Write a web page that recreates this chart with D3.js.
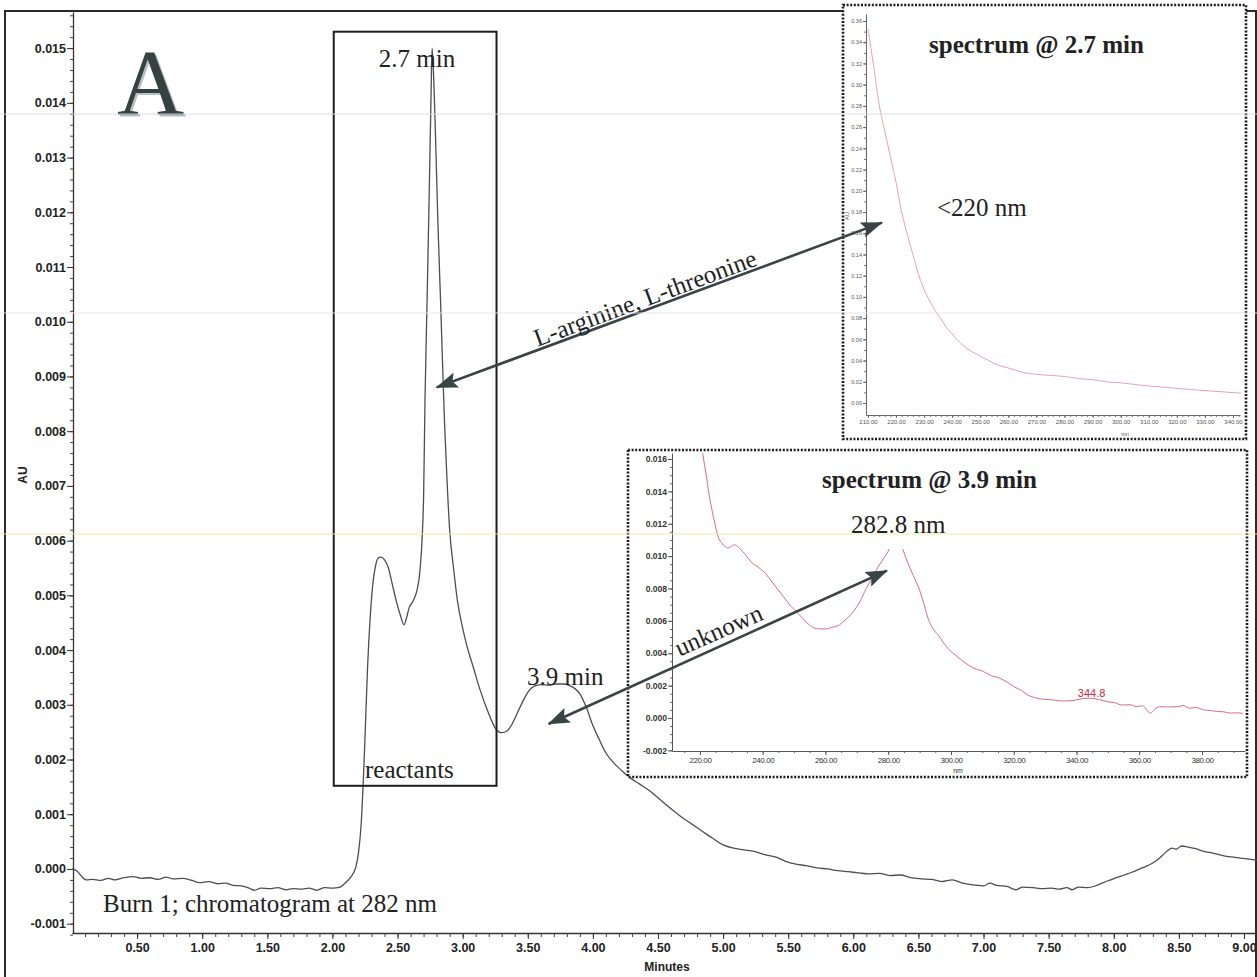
<!DOCTYPE html>
<html>
<head>
<meta charset="utf-8">
<script src="https://cdn.jsdelivr.net/npm/d3@7"></script>
<style>
  body { margin: 0; background: #fff; }
  svg { display: block; }
</style>
</head>
<body>
<script>
// ---- Chromatogram, Burn 1, detection at 282 nm ----
const retentionMin = [
  0.00, 0.04, 0.08, 0.11, 0.16, 0.22, 0.28, 0.33, 0.40, 0.47, 0.53, 0.60, 0.66, 0.72, 0.78, 0.85,
  0.92, 0.98, 1.05, 1.12, 1.18, 1.24, 1.30, 1.36, 1.40, 1.45, 1.52, 1.58, 1.64, 1.70, 1.76, 1.82,
  1.88, 1.94, 2.00, 2.06, 2.10, 2.14, 2.18, 2.20, 2.22, 2.235, 2.25, 2.27, 2.29, 2.31, 2.33, 2.35,
  2.37, 2.40, 2.43, 2.46, 2.49, 2.52, 2.55, 2.57, 2.59, 2.62, 2.65, 2.67, 2.69, 2.70, 2.711, 2.727,
  2.742, 2.757, 2.765, 2.775, 2.795, 2.81, 2.83, 2.86, 2.88, 2.90, 2.93, 2.96, 3.00, 3.03, 3.08, 3.13,
  3.19, 3.26, 3.30, 3.34, 3.38, 3.42, 3.47, 3.51, 3.55, 3.60, 3.66, 3.72, 3.78, 3.82, 3.86, 3.90,
  3.95, 4.00, 4.05, 4.10, 4.16, 4.22, 4.29, 4.36, 4.44, 4.52, 4.60, 4.68, 4.76, 4.84, 4.92, 5.00,
  5.08, 5.16, 5.24, 5.32, 5.40, 5.48, 5.56, 5.64, 5.72, 5.80, 5.88, 5.96, 6.04, 6.12, 6.20, 6.28,
  6.36, 6.44, 6.52, 6.60, 6.68, 6.76, 6.84, 6.92, 7.00, 7.05, 7.10, 7.18, 7.25, 7.30, 7.38, 7.45,
  7.52, 7.58, 7.64, 7.68, 7.73, 7.80, 7.88, 7.95, 8.02, 8.08, 8.14, 8.20, 8.26, 8.32, 8.37, 8.41,
  8.45, 8.48, 8.52, 8.57, 8.63, 8.69, 8.76, 8.83, 8.90, 8.97, 9.04, 9.10
];
const absorbanceAU = [
  0.00000, -0.00004, -0.00015, -0.00020, -0.00019, -0.00021, -0.00017, -0.00020, -0.00016, -0.00014, -0.00017, -0.00016, -0.00019, -0.00015, -0.00018, -0.00017,
  -0.00021, -0.00025, -0.00023, -0.00027, -0.00026, -0.00030, -0.00031, -0.00035, -0.00039, -0.00035, -0.00036, -0.00034, -0.00038, -0.00036, -0.00037, -0.00035,
  -0.00039, -0.00034, -0.00035, -0.00033, -0.00025, -0.00015, 0.00004, 0.00030, 0.00080, 0.00150, 0.00240, 0.00370, 0.00460, 0.00520, 0.00553, 0.00568,
  0.00570, 0.00565, 0.00550, 0.00520, 0.00490, 0.00465, 0.00446, 0.00460, 0.00478, 0.00490, 0.00510, 0.00540, 0.00610, 0.00680, 0.00860, 0.01040,
  0.01220, 0.01410, 0.01500, 0.01460, 0.01310, 0.01180, 0.01040, 0.00820, 0.00710, 0.00620, 0.00550, 0.00490, 0.00440, 0.00410, 0.00370, 0.00330,
  0.00290, 0.00254, 0.00249, 0.00252, 0.00265, 0.00285, 0.00310, 0.00326, 0.00334, 0.00337, 0.00336, 0.00338, 0.00338, 0.00335, 0.00330, 0.00320,
  0.00295, 0.00262, 0.00236, 0.00212, 0.00194, 0.00180, 0.00166, 0.00155, 0.00142, 0.00126, 0.00110, 0.00095, 0.00082, 0.00069, 0.00056, 0.00044,
  0.00038, 0.00035, 0.00032, 0.00026, 0.00022, 0.00014, 0.00009, 0.00006, 0.00002, 0.00000, -0.00003, -0.00005, -0.00007, -0.00009, -0.00008, -0.00012,
  -0.00011, -0.00016, -0.00018, -0.00019, -0.00023, -0.00020, -0.00026, -0.00029, -0.00031, -0.00026, -0.00030, -0.00032, -0.00038, -0.00033, -0.00034, -0.00036,
  -0.00035, -0.00037, -0.00034, -0.00038, -0.00033, -0.00034, -0.00029, -0.00022, -0.00016, -0.00011, -0.00006, 0.00000, 0.00006, 0.00014, 0.00024, 0.00033,
  0.00038, 0.00036, 0.00042, 0.00040, 0.00037, 0.00032, 0.00029, 0.00025, 0.00022, 0.00020, 0.00018, 0.00016
];

// ---- UV spectrum of the 2.7 min peak ----
const spec27Nm = [210, 212, 214, 216, 218, 220, 222, 224, 226, 228, 230, 232, 234, 236, 238, 240, 242, 244, 246, 248,
  250, 253, 256, 260, 265, 270, 275, 280, 285, 290, 295, 300, 305, 310, 315, 320, 325, 330, 335, 340, 343];
const spec27AU = [0.352, 0.318, 0.281, 0.256, 0.232, 0.208, 0.180, 0.159, 0.140, 0.121, 0.107, 0.096, 0.087, 0.079, 0.071, 0.065, 0.059, 0.054, 0.050, 0.047,
  0.044, 0.040, 0.036, 0.033, 0.029, 0.027, 0.026, 0.025, 0.023, 0.022, 0.020, 0.019, 0.0175, 0.016, 0.015, 0.0138, 0.0127, 0.0117, 0.0108, 0.0098, 0.0093];

// ---- UV spectrum of the 3.9 min peak ----
const spec39Nm = [220, 221, 222, 223, 224, 225, 226, 227, 228, 229, 230, 231, 232, 233, 234.5, 236, 238.7, 241, 243, 245,
  247, 249, 251.6, 254, 256, 258, 260, 262, 264, 266, 268.6, 271, 273, 275, 277, 279, 280, 281.5, 282.8, 284,
  284.7, 286, 288, 290, 291, 292.8, 294, 296, 299, 302, 304.6, 307, 310, 313, 315, 318, 320.4, 322.5, 324.6, 326,
  327.8, 330, 333, 336, 339.6, 342, 344.8, 347, 350, 352, 354.6, 357, 359, 361, 363.5, 365, 366.5, 369, 372.6, 374,
  376, 378, 380.5, 383, 385, 387, 389, 391, 393];
const spec39AU = [0.0175, 0.0162, 0.0150, 0.0137, 0.0127, 0.0118, 0.0111, 0.0108, 0.0106, 0.0105, 0.0106, 0.0107, 0.0106, 0.0104, 0.0101, 0.0097, 0.0093, 0.0089, 0.0084, 0.0079,
  0.0074, 0.0069, 0.0064, 0.0059, 0.0056, 0.0055, 0.0055, 0.0056, 0.0057, 0.0060, 0.0065, 0.0072, 0.0080, 0.0087, 0.0094, 0.0100, 0.0103, 0.0110, 0.0113, 0.0108,
  0.0104, 0.0097, 0.0088, 0.0079, 0.0073, 0.0061, 0.0056, 0.0051, 0.0043, 0.0038, 0.0034, 0.0031, 0.0029, 0.0026, 0.0025, 0.0022, 0.0019, 0.0017, 0.0014, 0.0013,
  0.0012, 0.00115, 0.0011, 0.00105, 0.0011, 0.0012, 0.00122, 0.00115, 0.0010, 0.00095, 0.0008, 0.00082, 0.0007, 0.00075, 0.0003, 0.00055, 0.0007, 0.00068, 0.0007, 0.00078,
  0.0006, 0.00065, 0.0005, 0.00045, 0.0004, 0.00038, 0.0003, 0.00032, 0.00028];

// ---- Axis ticks ----
const mainXTicks = d3.range(0.5, 9.01, 0.5);
const mainXMinor = d3.range(0.1, 9.1, 0.1);
const mainYTicks = d3.range(-0.001, 0.01501, 0.001);
const mainYMinor = d3.range(-0.0012, 0.01561, 0.0002);
const spec27XTicks = d3.range(210, 341, 10);
const spec27YTicks = d3.range(0, 0.3601, 0.02);
const spec39XTicks = d3.range(220, 381, 20);
const spec39YTicks = d3.range(-0.002, 0.01601, 0.002);

// ---- Annotation values ----
const reactantWindowMin = [2.01, 3.26];
const reactantWindowAU = [0.00152, 0.0153];
const peakLabel = "344.8";

const W = 1257, H = 977;
const svg = d3.select("body").append("svg").attr("width", W).attr("height", H)
  .style("font-family", "'Liberation Sans', Arial, sans-serif");

const serif = "'Liberation Serif', 'Times New Roman', serif";
const ink = "#222";

// outer page frame
svg.append("rect").attr("x", 5).attr("y", 11).attr("width", 1251).attr("height", 990)
  .attr("fill", "none").attr("stroke", "#2a2a2a").attr("stroke-width", 2);

// ---- Main chromatogram scales ----
const x = d3.scaleLinear().domain([0, 9.1]).range([72, 1257]);
const y = d3.scaleLinear().domain([-0.00117, 0.01566]).range([933, 12]);

const gMain = svg.append("g");

// y axis
gMain.append("g").attr("transform", `translate(${x(0) + 1},0)`)
  .call(d3.axisLeft(y).tickValues(mainYMinor).tickSize(3).tickFormat("").tickSizeOuter(0))
  .call(g => g.selectAll("line").attr("stroke", "#444"))
  .call(g => g.select(".domain").attr("stroke", "#333").attr("stroke-width", 1.3));
gMain.append("g").attr("transform", `translate(${x(0) + 1},0)`)
  .call(d3.axisLeft(y).tickValues(mainYTicks).tickSize(6).tickFormat(d => d.toFixed(3)).tickSizeOuter(0))
  .call(g => g.select(".domain").remove())
  .call(g => g.selectAll("line").attr("stroke", "#333"))
  .call(g => g.selectAll("text").attr("font-size", 12.5).attr("font-weight", "bold").attr("fill", ink).attr("x", -7));

// x axis
gMain.append("g").attr("transform", `translate(0,${y.range()[0]})`)
  .call(d3.axisBottom(x).tickValues(mainXMinor).tickSize(4).tickFormat("").tickSizeOuter(0))
  .call(g => g.selectAll("line").attr("stroke", "#444"))
  .call(g => g.select(".domain").attr("stroke", "#333").attr("stroke-width", 1.3));
gMain.append("g").attr("transform", `translate(0,${y.range()[0]})`)
  .call(d3.axisBottom(x).tickValues(mainXTicks).tickSize(6).tickFormat(d => d.toFixed(2)).tickSizeOuter(0))
  .call(g => g.select(".domain").remove())
  .call(g => g.selectAll("line").attr("stroke", "#333"))
  .call(g => g.selectAll("text").attr("font-size", 12.5).attr("font-weight", "bold").attr("fill", ink).attr("y", 10));

gMain.append("text").attr("x", 667).attr("y", 971).attr("text-anchor", "middle")
  .attr("font-size", 12).attr("font-weight", "bold").attr("fill", ink).text("Minutes");
gMain.append("text").attr("transform", "translate(27,475) rotate(-90)").attr("text-anchor", "middle")
  .attr("font-size", 12).attr("font-weight", "bold").attr("fill", ink).text("AU");

// chromatogram trace
const chrom = retentionMin.map((t, i) => [t, absorbanceAU[i]]);
gMain.append("path").datum(chrom)
  .attr("d", d3.line().x(d => x(d[0])).y(d => y(d[1])).curve(d3.curveMonotoneX))
  .attr("fill", "none").attr("stroke", "#4c4c5c").attr("stroke-width", 1.3);

// reactant window box
gMain.append("rect")
  .attr("x", x(reactantWindowMin[0])).attr("y", y(reactantWindowAU[1]))
  .attr("width", x(reactantWindowMin[1]) - x(reactantWindowMin[0]))
  .attr("height", y(reactantWindowAU[0]) - y(reactantWindowAU[1]))
  .attr("fill", "none").attr("stroke", "#1e1e1e").attr("stroke-width", 2);

// panel letter
svg.append("text").attr("x", 119).attr("y", 116).attr("font-family", serif).attr("font-size", 93)
  .attr("fill", "#b9c0c0").text("A");
svg.append("text").attr("x", 117).attr("y", 114).attr("font-family", serif).attr("font-size", 93)
  .attr("fill", "#364142").text("A");

function serifText(txt, xPos, yPos, opts = {}) {
  const t = svg.append("text").attr("x", xPos).attr("y", yPos).attr("font-family", serif)
    .attr("font-size", opts.size || 25).attr("fill", opts.fill || ink)
    .attr("text-anchor", opts.anchor || "start").text(txt);
  if (opts.bold) t.attr("font-weight", "bold");
  if (opts.rotate) t.attr("transform", `rotate(${opts.rotate},${xPos},${yPos})`);
  return t;
}

serifText("2.7 min", 417, 67, { anchor: "middle" });
serifText("reactants", 365, 778);
serifText("3.9 min", 527, 685);
serifText("Burn 1; chromatogram at 282 nm", 103, 912);

// ---- Inset: spectrum @ 2.7 min ----
const ins1 = svg.append("g");
ins1.append("rect").attr("x", 843).attr("y", 5).attr("width", 403).attr("height", 434)
  .attr("fill", "#fff").attr("stroke", "#1a1a1a").attr("stroke-width", 2.6).attr("stroke-dasharray", "2 1.6");
const x1 = d3.scaleLinear().domain([209.3, 342.5]).range([866, 1240]);
const y1 = d3.scaleLinear().domain([-0.0113, 0.3666]).range([415, 14]);

ins1.append("g").attr("transform", `translate(866,0)`)
  .call(d3.axisLeft(y1).tickValues(d3.range(0, 0.361, 0.01)).tickSize(2).tickFormat("").tickSizeOuter(0))
  .call(g => g.selectAll("line").attr("stroke", "#777"))
  .call(g => g.select(".domain").attr("stroke", "#666"));
ins1.append("g").attr("transform", `translate(866,0)`)
  .call(d3.axisLeft(y1).tickValues(spec27YTicks).tickSize(3).tickFormat(d => d.toFixed(2)).tickSizeOuter(0))
  .call(g => g.select(".domain").remove())
  .call(g => g.selectAll("line").attr("stroke", "#666"))
  .call(g => g.selectAll("text").attr("font-size", 5.5).attr("fill", "#555").attr("x", -4));
ins1.append("g").attr("transform", `translate(0,415)`)
  .call(d3.axisBottom(x1).tickValues(d3.range(210, 343, 2)).tickSize(2).tickFormat("").tickSizeOuter(0))
  .call(g => g.selectAll("line").attr("stroke", "#777"))
  .call(g => g.select(".domain").attr("stroke", "#666"));
ins1.append("g").attr("transform", `translate(0,415)`)
  .call(d3.axisBottom(x1).tickValues(spec27XTicks).tickSize(3).tickFormat(d => d.toFixed(2)).tickSizeOuter(0))
  .call(g => g.select(".domain").remove())
  .call(g => g.selectAll("line").attr("stroke", "#666"))
  .call(g => g.selectAll("text").attr("font-size", 6).attr("fill", "#555").attr("y", 5));
ins1.append("text").attr("x", 1125).attr("y", 436).attr("text-anchor", "middle")
  .attr("font-size", 5.5).attr("fill", "#555").text("nm");
ins1.append("text").attr("transform", "translate(849,216) rotate(-90)").attr("text-anchor", "middle")
  .attr("font-size", 6).attr("fill", "#555").text("AU");

ins1.append("path").datum(spec27Nm.map((n, i) => [n, spec27AU[i]]))
  .attr("d", d3.line().x(d => x1(d[0])).y(d => y1(d[1])).curve(d3.curveMonotoneX))
  .attr("fill", "none").attr("stroke", "#e6a3b2").attr("stroke-width", 1);

serifText("spectrum @ 2.7 min", 929, 53, { bold: true });
serifText("<220 nm", 937, 216);

// ---- Inset: spectrum @ 3.9 min ----
const ins2 = svg.append("g");
ins2.append("rect").attr("x", 628).attr("y", 450).attr("width", 619).attr("height", 327)
  .attr("fill", "#fff").attr("stroke", "#1a1a1a").attr("stroke-width", 2.6).attr("stroke-dasharray", "2 1.6");
const x2 = d3.scaleLinear().domain([211.1, 393.7]).range([672, 1245]);
const y2 = d3.scaleLinear().domain([-0.00204, 0.01637]).range([751, 453]);

ins2.append("g").attr("transform", `translate(672,0)`)
  .call(d3.axisLeft(y2).tickValues(d3.range(-0.002, 0.0161, 0.0005)).tickSize(2).tickFormat("").tickSizeOuter(0))
  .call(g => g.selectAll("line").attr("stroke", "#666"))
  .call(g => g.select(".domain").attr("stroke", "#555"));
ins2.append("g").attr("transform", `translate(672,0)`)
  .call(d3.axisLeft(y2).tickValues(spec39YTicks).tickSize(4).tickFormat(d => d.toFixed(3)).tickSizeOuter(0))
  .call(g => g.select(".domain").remove())
  .call(g => g.selectAll("line").attr("stroke", "#555"))
  .call(g => g.selectAll("text").attr("font-size", 8.5).attr("font-weight", "bold").attr("fill", "#333").attr("x", -5));
ins2.append("g").attr("transform", `translate(0,751)`)
  .call(d3.axisBottom(x2).tickValues(d3.range(215, 394, 5)).tickSize(2).tickFormat("").tickSizeOuter(0))
  .call(g => g.selectAll("line").attr("stroke", "#666"))
  .call(g => g.select(".domain").attr("stroke", "#555"));
ins2.append("g").attr("transform", `translate(0,751)`)
  .call(d3.axisBottom(x2).tickValues(spec39XTicks).tickSize(4).tickFormat(d => d.toFixed(2)).tickSizeOuter(0))
  .call(g => g.select(".domain").remove())
  .call(g => g.selectAll("line").attr("stroke", "#555"))
  .call(g => g.selectAll("text").attr("font-size", 8).attr("letter-spacing", -0.4).attr("fill", "#333").attr("y", 6));
ins2.append("text").attr("x", 958).attr("y", 773).attr("text-anchor", "middle")
  .attr("font-size", 7).attr("fill", "#333").text("nm");

const clip2 = svg.append("clipPath").attr("id", "clip2");
clip2.append("rect").attr("x", 672).attr("y", 453).attr("width", 573).attr("height", 298);
ins2.append("path").datum(spec39Nm.map((n, i) => [n, spec39AU[i]]))
  .attr("clip-path", "url(#clip2)")
  .attr("d", d3.line().x(d => x2(d[0])).y(d => y2(d[1])).curve(d3.curveMonotoneX))
  .attr("fill", "none").attr("stroke", "#d96c84").attr("stroke-width", 1);

// value label on the long-wavelength shoulder
const pIdx = spec39Nm.indexOf(+peakLabel);
ins2.append("text").attr("x", x2(spec39Nm[pIdx])).attr("y", y2(spec39AU[pIdx]) - 1)
  .attr("text-anchor", "middle").attr("font-size", 11).attr("fill", "#cc2f3f").text(peakLabel);

serifText("spectrum @ 3.9 min", 822, 488, { bold: true });
// label box for the absorption maximum
ins2.append("rect").attr("x", 848).attr("y", 508).attr("width", 100).attr("height", 41).attr("fill", "#fff");
serifText("282.8 nm", 851, 533);

// ---- Arrows linking peaks to spectra ----
const defs = svg.append("defs");
defs.append("marker").attr("id", "head").attr("viewBox", "0 0 22 16")
  .attr("refX", 21).attr("refY", 8).attr("markerWidth", 22).attr("markerHeight", 16)
  .attr("markerUnits", "userSpaceOnUse").attr("orient", "auto-start-reverse")
  .append("path").attr("d", "M0,0 L22,8 L0,16 L4,8 Z").attr("fill", "#3a4444");

function arrow(p0, p1) {
  svg.append("line").attr("x1", p0[0]).attr("y1", p0[1]).attr("x2", p1[0]).attr("y2", p1[1])
    .attr("stroke", "#3a4444").attr("stroke-width", 2.6)
    .attr("marker-start", "url(#head)").attr("marker-end", "url(#head)");
}
arrow([x(2.80), y(0.0088)], [x1(215), y1(0.170)]);
arrow([x(3.66), y(0.00265)], [x2(279.6), y2(0.0091)]);

serifText("L-arginine, L-threonine", 648, 306, { anchor: "middle", rotate: -20.3 });
serifText("unknown", 722, 638, { anchor: "middle", rotate: -23.8 });

// faint horizontal streaks across the sheet
[[114, "#d5dbe6"], [313, "#ece2e7"], [534, "#f1ec94"]].forEach(([yy, c]) => {
  svg.append("line").attr("x1", 0).attr("x2", W).attr("y1", yy).attr("y2", yy)
    .attr("stroke", c).attr("stroke-width", 1).attr("opacity", 0.9);
});
</script>
</body>
</html>
